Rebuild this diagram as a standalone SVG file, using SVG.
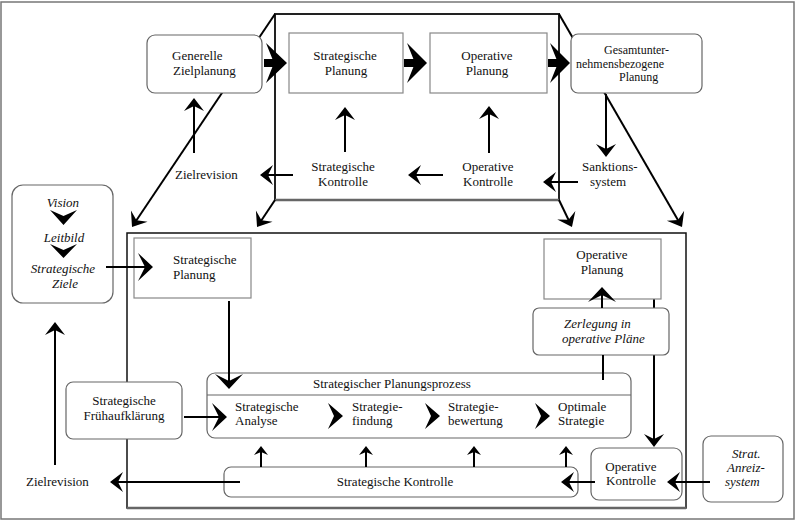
<svg xmlns="http://www.w3.org/2000/svg" width="796" height="522" viewBox="0 0 796 522">
<style>
text{font-family:"Liberation Serif","Times New Roman",serif;font-size:13px;fill:#111}
.i{font-style:italic}
.m{text-anchor:middle}
.s12{font-size:12px}
.box{fill:#fff;stroke:#888;stroke-width:1.2}
.rbox{fill:#fff;stroke:#666;stroke-width:1.2}
.ln{fill:none;stroke:#000;stroke-width:2}
.fill{fill:#000}
</style>
<defs>
<marker id="ah" markerUnits="userSpaceOnUse" markerWidth="30" markerHeight="30" orient="auto" overflow="visible"><path d="M5,0 L-8,-10 L-3,0 L-8,10 Z" fill="#000"/></marker>
<marker id="big" markerUnits="userSpaceOnUse" markerWidth="40" markerHeight="40" orient="auto" overflow="visible"><path d="M6,0 L-9,-14 L-2,0 L-9,14 Z" fill="#000"/></marker>
<marker id="sm" markerUnits="userSpaceOnUse" markerWidth="20" markerHeight="20" orient="auto" overflow="visible"><path d="M4,0 L-5,-7 L-2,0 L-5,7 Z" fill="#000"/></marker>
</defs>
<rect x="1" y="2" width="793" height="517" fill="#fff" stroke="#777" stroke-width="1.5"/>
<g id="frames">
<rect x="275" y="14" width="284" height="186" fill="none" stroke="#222" stroke-width="2"/>
<line x1="275" y1="200" x2="559" y2="200" stroke="#666" stroke-width="2.5"/>
<rect x="127" y="233" width="559" height="275" fill="none" stroke="#111" stroke-width="1.5"/>
<line x1="127" y1="508" x2="686" y2="508" stroke="#666" stroke-width="2.5"/>
</g>
<g id="connectors-back">
<line class="ln" x1="275" y1="14" x2="134.8" y2="222.8" marker-end="url(#ah)"/>
<line class="ln" x1="559" y1="14" x2="679.5" y2="222.7" marker-end="url(#ah)"/>
<line class="ln" x1="275" y1="200" x2="259.8" y2="222.8" marker-end="url(#ah)"/>
<line class="ln" x1="559" y1="200" x2="569.8" y2="222.5" marker-end="url(#ah)"/>
<line class="ln" x1="654" y1="299" x2="654" y2="442" marker-end="url(#ah)"/>
</g>
<g id="n-generelle"><rect class="rbox" x="147" y="35" width="115" height="58" rx="8"/><text x="172" y="60">Generelle</text><text x="173" y="75">Zielplanung</text></g>
<g id="n-sp-top"><rect class="box" x="289" y="33" width="114" height="60"/><text class="m" x="345" y="60">Strategische</text><text class="m" x="346" y="75">Planung</text></g>
<g id="n-op-top"><rect class="box" x="430" y="33" width="117" height="60"/><text class="m" x="487" y="60">Operative</text><text class="m" x="487" y="75">Planung</text></g>
<g id="n-gesamt"><rect class="rbox" x="571" y="34" width="131" height="59" rx="7"/><text class="s12" x="604" y="54">Gesamtunter-</text><text class="s12" x="576" y="67.5">nehmensbezogene</text><text class="s12" x="619" y="81">Planung</text></g>
<g id="n-sk-top"><text class="m" x="343" y="171">Strategische</text><text class="m" x="343" y="186">Kontrolle</text></g>
<g id="n-ok-top"><text class="m" x="488" y="171">Operative</text><text class="m" x="488" y="186">Kontrolle</text></g>
<g id="n-sanktion"><text x="582" y="171">Sanktions-</text><text x="590" y="186">system</text></g>
<g id="n-zielrev-top"><text x="175" y="179">Zielrevision</text></g>
<g id="n-vision"><rect class="rbox" x="12" y="185" width="101" height="118" rx="11"/>
<text class="i m" x="63" y="207">Vision</text>
<polygon class="fill" points="50,210 63.5,216 77,210 63.5,225"/>
<text class="i m" x="64" y="242">Leitbild</text>
<polygon class="fill" points="50,244 63.5,250 77,244 63.5,258"/>
<text class="i m" x="63" y="273">Strategische</text><text class="i m" x="65" y="288">Ziele</text></g>
<g id="n-sp-bot"><rect class="box" x="134" y="238" width="117" height="60"/><text x="173" y="264">Strategische</text><text x="173" y="279">Planung</text></g>
<g id="n-op-bot"><rect class="box" x="544" y="239" width="117" height="60"/><text class="m" x="602" y="259">Operative</text><text class="m" x="602" y="274">Planung</text></g>
<g id="n-zerlegung"><rect class="rbox" x="533" y="308" width="136" height="47" rx="6"/><text class="i" x="564" y="328">Zerlegung in</text><text class="i" x="562" y="343">operative Pläne</text></g>
<g id="n-frueh"><rect class="rbox" x="66" y="382" width="116" height="57" rx="7"/><text class="m" x="124" y="405">Strategische</text><text class="m" x="124" y="420">Frühaufklärung</text></g>
<g id="n-prozess"><rect class="rbox" x="207" y="373" width="424" height="65" rx="8"/><line x1="207" y1="395" x2="631" y2="395" stroke="#666" stroke-width="1.2"/>
<text x="313" y="388">Strategischer Planungsprozess</text>
<text x="235" y="411">Strategische</text><text x="235" y="425">Analyse</text>
<polygon class="fill" points="328,403 343,416 328,429 334,416"/>
<text x="352" y="411">Strategie-</text><text x="352" y="425">findung</text>
<polygon class="fill" points="425,403 440,416 425,429 431,416"/>
<text x="448" y="411">Strategie-</text><text x="448" y="425">bewertung</text>
<polygon class="fill" points="535,403 550,416 535,429 541,416"/>
<text x="558" y="411">Optimale</text><text x="558" y="425">Strategie</text></g>
<g id="n-sk-bot"><rect class="rbox" x="224" y="467" width="354" height="30" rx="7"/><text class="m" x="395" y="486">Strategische Kontrolle</text></g>
<g id="n-zielrev-bot"><text x="26" y="486">Zielrevision</text></g>
<g id="n-ok-bot"><rect class="rbox" x="591" y="448" width="91" height="52" rx="8"/><text class="m" x="631" y="471">Operative</text><text class="m" x="631" y="485">Kontrolle</text></g>
<g id="n-anreiz"><rect class="rbox" x="703" y="436" width="80" height="66" rx="8"/><text class="i" x="732" y="458">Strat.</text><text class="i" x="727" y="472">Anreiz-</text><text class="i" x="725" y="486">system</text></g>
<g id="connectors">
<rect class="fill" x="264" y="59" width="11" height="8"/><polygon class="fill" points="266,43 287,63 266,83 274,63"/>
<rect class="fill" x="404" y="59" width="11" height="8"/><polygon class="fill" points="407,43 427,63 407,83 415,63"/>
<rect class="fill" x="548" y="59" width="11" height="8"/><polygon class="fill" points="550,43 570,63 550,83 558,63"/>
<line class="ln" x1="194" y1="153" x2="194" y2="103" marker-end="url(#ah)"/>
<line class="ln" x1="345" y1="152" x2="345" y2="112" marker-end="url(#ah)"/>
<line class="ln" x1="489" y1="153" x2="489" y2="111" marker-end="url(#ah)"/>
<line class="ln" x1="293" y1="175" x2="265" y2="175" marker-end="url(#ah)"/>
<line class="ln" x1="443" y1="175" x2="413" y2="175" marker-end="url(#ah)"/>
<line class="ln" x1="578" y1="182" x2="548" y2="182" marker-end="url(#ah)"/>
<line class="ln" x1="606" y1="94" x2="606" y2="152" marker-end="url(#ah)"/>
<line class="ln" x1="106" y1="267" x2="147" y2="267" marker-end="url(#big)"/>
<line class="ln" x1="229" y1="301" x2="229" y2="383" marker-end="url(#big)"/>
<line class="ln" x1="55" y1="465" x2="55" y2="327" marker-end="url(#ah)"/>
<line class="ln" x1="240" y1="482" x2="115" y2="482" marker-end="url(#ah)"/>
<line class="ln" x1="184" y1="417" x2="221" y2="417" marker-end="url(#big)"/>
<line class="ln" x1="261" y1="467" x2="261" y2="450" marker-end="url(#sm)"/>
<line class="ln" x1="366" y1="467" x2="366" y2="450" marker-end="url(#sm)"/>
<line class="ln" x1="474" y1="467" x2="474" y2="450" marker-end="url(#sm)"/>
<line class="ln" x1="566" y1="467" x2="566" y2="450" marker-end="url(#sm)"/>
<line class="ln" x1="602" y1="308" x2="602" y2="293" marker-end="url(#big)"/>
<line class="ln" x1="603" y1="355" x2="603" y2="380"/>
<line class="ln" x1="595" y1="482" x2="566" y2="482" marker-end="url(#ah)"/>
<line class="ln" x1="710" y1="482" x2="672" y2="482" marker-end="url(#ah)"/>
</g>
</svg>
